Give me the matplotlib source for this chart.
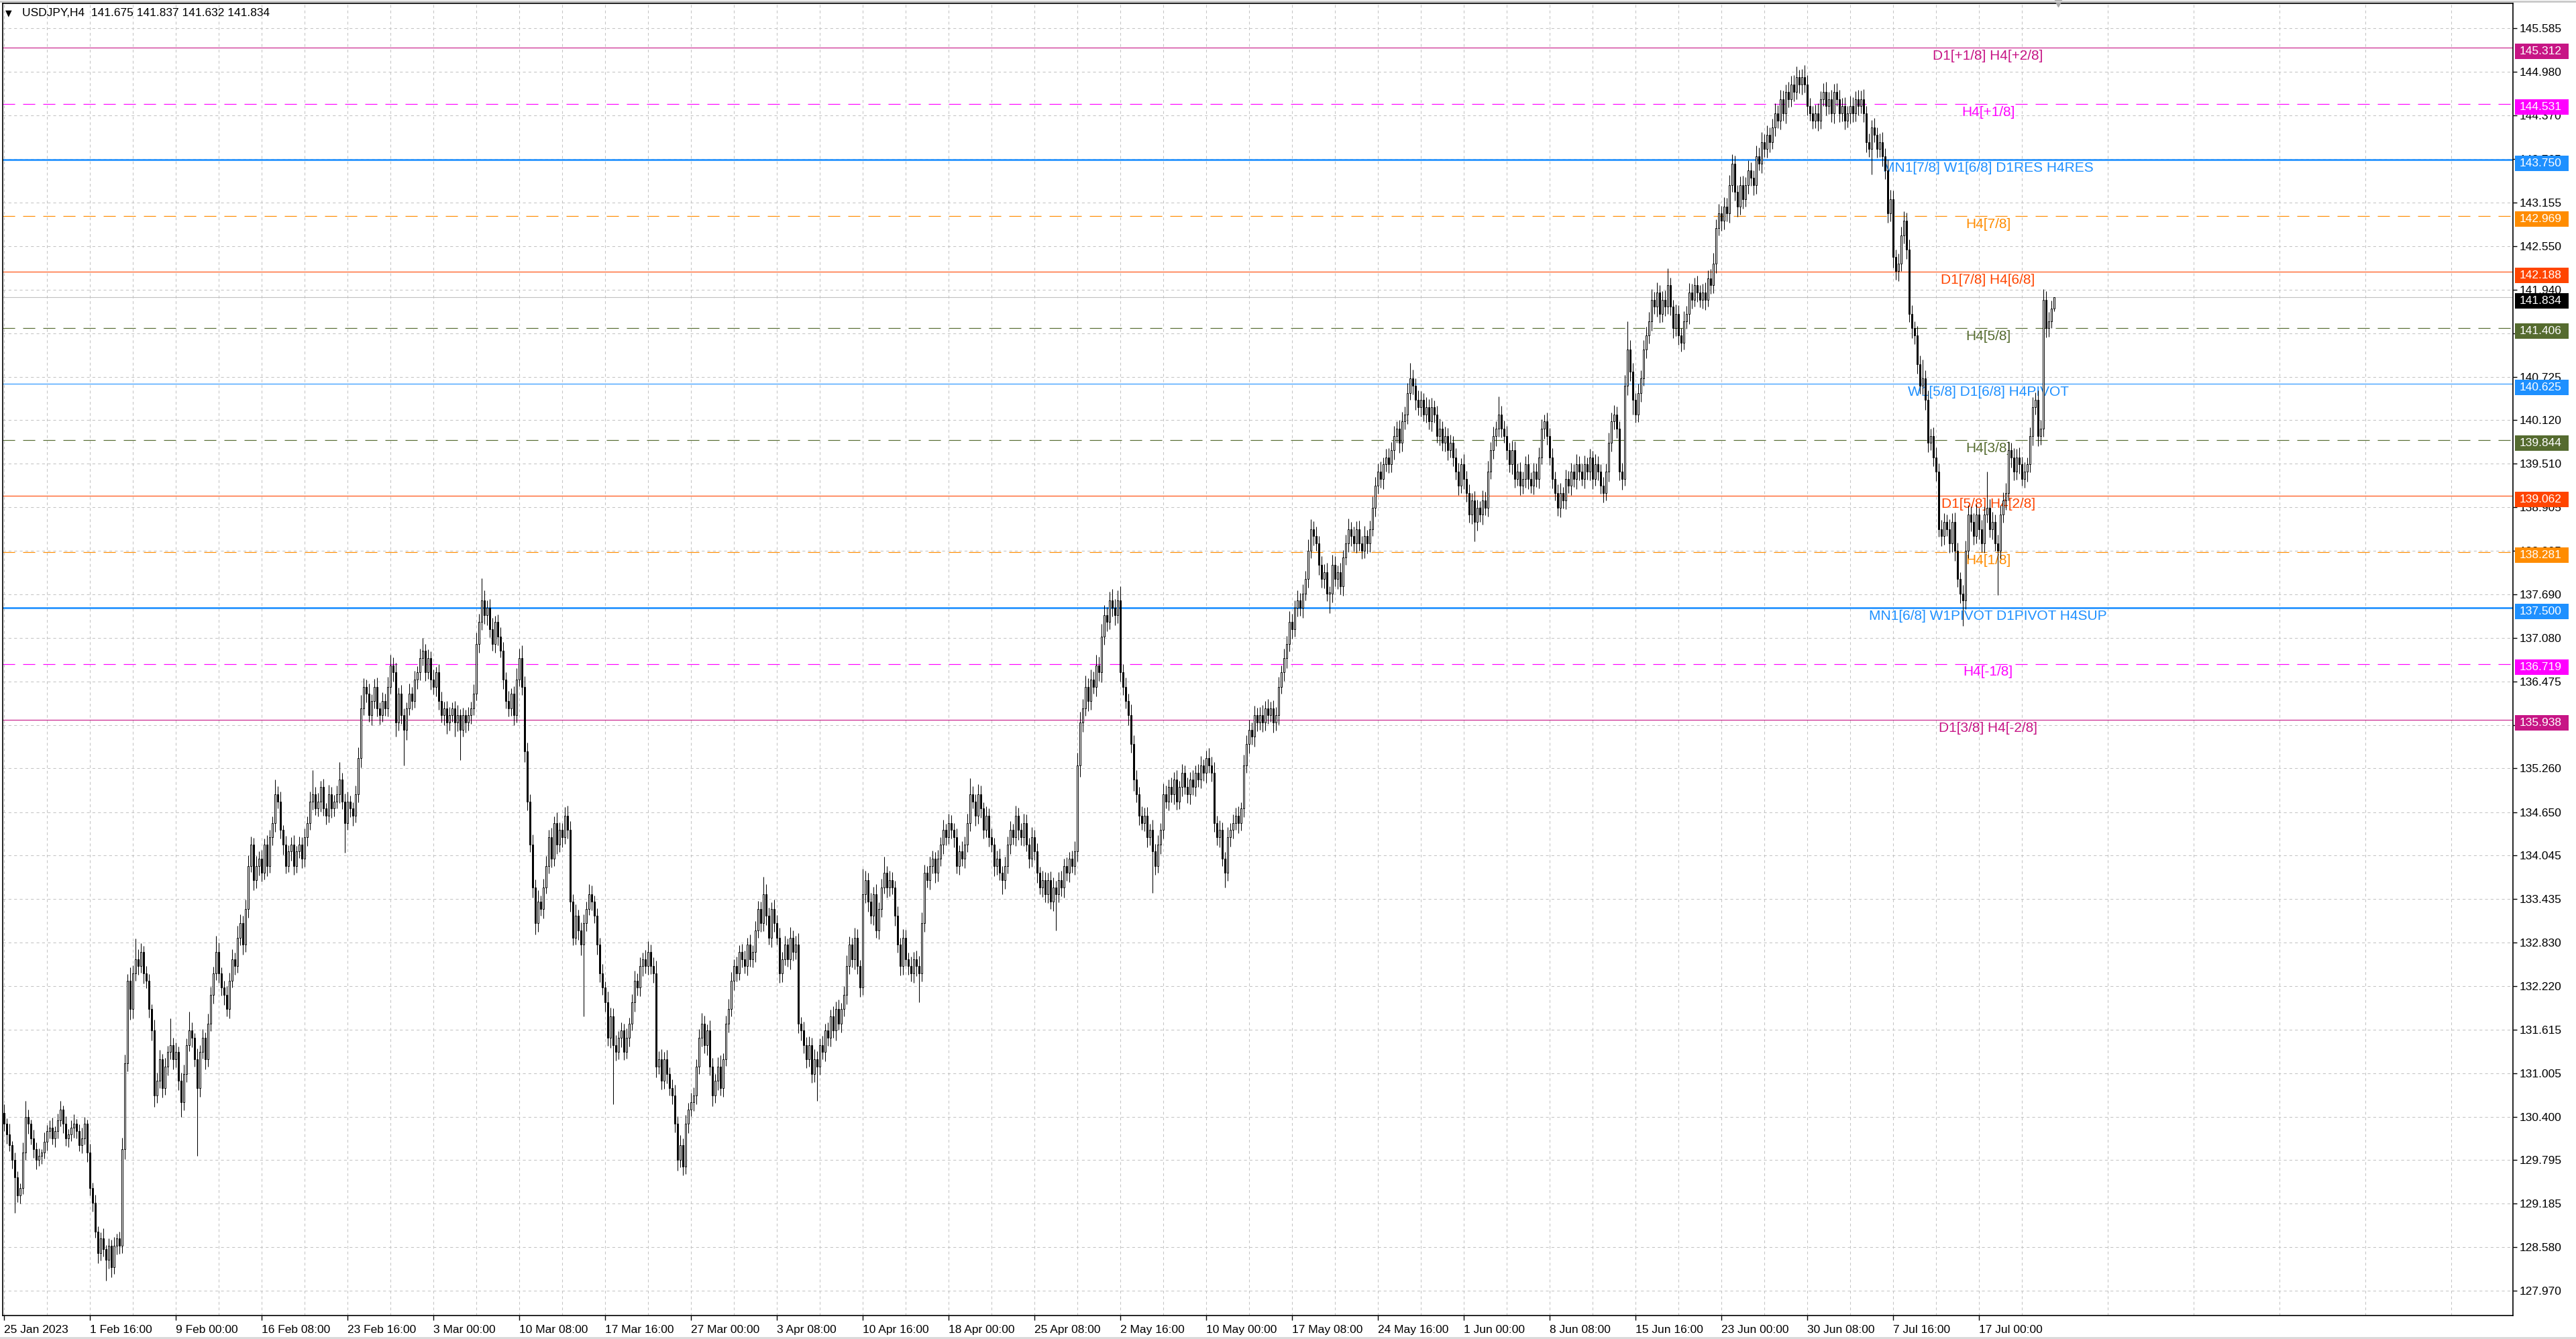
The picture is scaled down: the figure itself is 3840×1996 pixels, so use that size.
import numpy as np
import matplotlib.pyplot as plt
from matplotlib.patches import Rectangle
from matplotlib.lines import Line2D
from matplotlib import transforms as mtransforms

plt.rcParams['font.family'] = ['Liberation Sans', 'DejaVu Sans']

# USDJPY H4 closes, one trading day (6 bars) per row
closes = [
    130.30, 130.15, 130.00, 129.80, 129.55, 129.30,
    129.40, 129.90, 130.40, 130.30, 130.10, 129.95,
    129.80, 129.85, 129.90, 130.05, 130.20, 130.25,
    130.10, 130.20, 130.35, 130.50, 130.30, 130.10,
    130.15, 130.25, 130.30, 130.20, 130.00, 130.10,
    130.30, 129.90, 129.40, 129.20, 128.80, 128.50,
    128.70, 128.55, 128.40, 128.60, 128.30, 128.60,
    128.70, 128.60, 129.95, 131.15, 132.30, 131.90,
    132.40, 132.60, 132.50, 132.70, 132.40, 132.30,
    131.90, 131.60, 130.70, 130.90, 131.20, 130.80,
    131.10, 131.30, 131.40, 131.20, 131.30, 130.90,
    130.60, 131.00, 131.40, 131.60, 131.50, 131.20,
    130.80, 131.30, 131.50, 131.20, 131.70, 132.10,
    132.40, 132.70, 132.40, 132.20, 132.10, 131.90,
    132.30, 132.60, 132.50, 132.90, 133.10, 132.80,
    133.30, 133.90, 134.20, 133.70, 133.90, 134.00,
    133.80, 134.20, 133.90, 134.30, 134.50, 134.90,
    134.80, 134.40, 134.20, 133.90, 134.10, 134.20,
    133.90, 134.10, 134.20, 134.00, 134.30, 134.50,
    134.80, 134.90, 134.70, 134.80, 135.00, 134.70,
    134.60, 134.90, 134.70, 134.80, 134.90, 135.10,
    134.80, 134.50, 134.80, 134.70, 134.60, 134.90,
    135.40, 136.10, 136.40, 136.30, 136.00, 136.20,
    136.40, 136.10, 136.00, 136.20, 136.10, 136.40,
    136.70, 136.60, 135.90, 136.30, 136.00, 135.80,
    136.10, 136.30, 136.20, 136.50, 136.60, 136.80,
    136.90, 136.60, 136.80, 136.50, 136.40, 136.60,
    136.20, 136.00, 136.10, 135.90, 136.00, 136.10,
    135.90, 136.00, 135.80, 136.00, 135.90, 136.00,
    136.10, 136.30, 137.00, 137.30, 137.60, 137.40,
    137.50, 137.20, 137.00, 137.30, 137.10, 136.90,
    136.50, 136.20, 136.10, 136.30, 136.00, 136.50,
    136.80, 136.40, 135.50, 134.80, 134.20, 133.60,
    133.10, 133.40, 133.30, 133.60, 133.90, 134.30,
    134.00, 134.50, 134.20, 134.40, 134.30, 134.60,
    134.40, 133.40, 132.90, 133.20, 133.00, 132.80,
    133.10, 133.30, 133.50, 133.40, 133.20, 132.80,
    132.40, 132.20, 132.00, 131.50, 131.80, 131.40,
    131.30, 131.50, 131.60, 131.30, 131.50, 131.70,
    132.00, 132.30, 132.20, 132.50, 132.60, 132.50,
    132.70, 132.50, 132.40, 131.10, 131.20, 130.90,
    131.20, 131.00, 130.80, 130.70, 130.30, 129.80,
    130.00, 129.70, 130.30, 130.50, 130.60, 130.70,
    131.10, 131.50, 131.70, 131.40, 131.60, 131.10,
    130.70, 130.90, 131.10, 130.80, 131.20, 131.70,
    131.90, 132.30, 132.50, 132.40, 132.70, 132.60,
    132.50, 132.80, 132.60, 132.70, 133.00, 133.30,
    133.10, 133.50, 133.20, 132.90, 133.30, 133.10,
    132.90, 132.40, 132.60, 132.80, 132.60, 132.90,
    132.70, 132.80, 131.70, 131.60, 131.40, 131.20,
    131.40, 131.00, 131.20, 131.10, 131.40, 131.30,
    131.60, 131.50, 131.80, 131.60, 131.90, 131.70,
    131.90, 132.10, 132.50, 132.80, 132.60, 132.90,
    132.50, 132.20, 133.50, 133.70, 133.40, 133.20,
    133.50, 133.00, 133.30, 133.60, 133.80, 133.60,
    133.70, 133.60, 133.20, 132.80, 132.50, 132.90,
    132.60, 132.50, 132.40, 132.60, 132.50, 132.40,
    133.10, 133.80, 133.70, 133.90, 134.00, 133.80,
    134.00, 134.20, 134.40, 134.30, 134.50, 134.40,
    134.30, 133.90, 134.10, 134.00, 134.20, 134.50,
    134.90, 134.80, 134.60, 134.90, 134.70, 134.40,
    134.60, 134.30, 134.20, 133.90, 134.00, 133.80,
    133.70, 133.90, 134.20, 134.40, 134.30, 134.60,
    134.40, 134.30, 134.50, 134.20, 134.00, 134.30,
    134.10, 133.80, 133.60, 133.70, 133.50, 133.70,
    133.40, 133.60, 133.50, 133.70, 133.60, 133.90,
    133.80, 134.00, 133.90, 134.10, 135.30, 135.90,
    136.10, 136.40, 136.20, 136.50, 136.40, 136.70,
    136.60, 137.10, 137.40, 137.30, 137.60, 137.50,
    137.40, 137.60, 136.60, 136.40, 136.20, 136.00,
    135.60, 135.10, 134.90, 134.60, 134.50, 134.60,
    134.30, 134.40, 134.10, 133.90, 134.20, 134.40,
    134.90, 134.80, 135.00, 134.90, 135.10, 134.80,
    135.00, 135.20, 135.00, 134.90, 135.10, 135.00,
    135.20, 135.10, 135.30, 135.20, 135.40, 135.30,
    135.20, 134.50, 134.30, 134.40, 134.00, 133.80,
    134.30, 134.40, 134.50, 134.60, 134.50, 134.70,
    135.30, 135.60, 135.80, 135.70, 136.00, 135.90,
    136.00, 135.90, 136.10, 136.00, 136.10, 135.90,
    136.00, 136.40, 136.60, 136.80, 137.00, 137.30,
    137.20, 137.50, 137.60, 137.50, 137.70, 137.90,
    138.30, 138.60, 138.50, 138.40, 138.10, 137.90,
    138.00, 137.70, 137.70, 138.10, 137.90, 138.00,
    137.80, 138.20, 138.40, 138.60, 138.50, 138.40,
    138.60, 138.40, 138.30, 138.50, 138.40, 138.60,
    138.90, 139.20, 139.40, 139.30, 139.50, 139.60,
    139.50, 139.70, 139.90, 140.00, 139.80, 140.10,
    140.20, 140.50, 140.70, 140.60, 140.40, 140.30,
    140.40, 140.20, 140.30, 140.10, 140.30, 140.20,
    139.90, 140.00, 139.80, 139.90, 139.70, 139.80,
    139.60, 139.40, 139.20, 139.50, 139.30, 139.10,
    138.80, 139.00, 138.70, 138.90, 138.80, 139.00,
    138.90, 139.40, 139.70, 139.90, 140.00, 140.20,
    140.00, 139.90, 139.70, 139.50, 139.70, 139.30,
    139.40, 139.20, 139.30, 139.50, 139.30, 139.20,
    139.40, 139.30, 139.60, 140.00, 140.10, 139.90,
    139.60, 139.30, 139.10, 138.90, 139.10, 139.00,
    139.30, 139.20, 139.40, 139.30, 139.50, 139.40,
    139.30, 139.50, 139.40, 139.60, 139.30, 139.50,
    139.40, 139.20, 139.10, 139.40, 139.80, 140.10,
    140.20, 140.00, 139.40, 139.30, 140.60, 141.10,
    140.80, 140.40, 140.20, 140.50, 140.70, 141.10,
    141.30, 141.50, 141.80, 141.70, 141.90, 141.60,
    141.80, 141.70, 142.00, 141.70, 141.40, 141.60,
    141.30, 141.20, 141.50, 141.60, 141.90, 141.80,
    142.00, 141.90, 141.80, 141.90, 141.80, 142.10,
    142.00, 142.30, 142.80, 143.00, 142.90, 143.10,
    143.00, 143.40, 143.70, 143.30, 143.10, 143.40,
    143.20, 143.40, 143.60, 143.50, 143.40, 143.80,
    143.70, 144.00, 143.90, 144.10, 144.00, 144.20,
    144.40, 144.30, 144.60, 144.40, 144.70, 144.60,
    144.80, 144.70, 144.90, 144.80, 144.90, 144.80,
    144.50, 144.40, 144.30, 144.40, 144.30, 144.60,
    144.70, 144.50, 144.60, 144.40, 144.70, 144.60,
    144.40, 144.50, 144.30, 144.40, 144.50, 144.40,
    144.60, 144.50, 144.60, 144.40, 144.00, 143.90,
    144.20, 144.10, 143.90, 144.00, 143.80, 143.60,
    143.00, 143.20, 142.40, 142.20, 142.30, 142.70,
    142.90, 142.50, 141.60, 141.40, 141.30, 140.90,
    140.60, 140.70, 140.40, 139.80, 139.90, 139.60,
    139.40, 138.60, 138.50, 138.70, 138.60, 138.40,
    138.70, 138.30, 137.90, 137.70, 137.60, 138.30,
    138.80, 138.70, 138.50, 138.80, 138.60, 138.40,
    138.80, 138.90, 138.60, 138.70, 138.40, 138.30,
    138.80, 139.00, 139.10, 139.70, 139.60, 139.40,
    139.60, 139.50, 139.30, 139.40, 139.50, 139.90,
    140.30, 140.40, 139.90, 140.00, 141.80, 141.40,
    141.50, 141.675, 141.834,
]
first_open = 130.45

# upper / lower shadow length per bar, in hundredths of a yen
wick_up = [
    12, 8, 15, 6, 10, 9, 7, 14, 22, 10, 6, 12, 9, 11, 5, 13, 8, 10,
    14, 7, 9, 12, 6, 11, 8, 10, 13, 7, 9, 15, 10, 6, 12, 8, 11, 7,
    9, 14, 6, 10, 8, 12, 7, 10, 16, 12, 9, 18, 11, 29, 14, 12, 8, 10,
    9, 7, 15, 11, 13, 8, 12, 9, 37, 10, 14, 8, 11, 13, 9, 27, 12, 7,
    15, 10, 12, 8, 14, 11, 9, 22, 13, 8, 10, 12, 11, 14, 9, 16, 12, 10,
    13, 15, 11, 9, 14, 10, 12, 8, 13, 10, 9, 20, 11, 14, 7, 12, 9, 10,
    13, 8, 11, 10, 12, 9, 14, 34, 10, 12, 9, 11, 8, 13, 10, 9, 12, 25,
    10, 11, 14, 8, 9, 12, 15, 18, 12, 10, 14, 9, 11, 13, 8, 12, 10, 14,
    15, 11, 13, 9, 12, 10, 8, 14, 10, 12, 9, 13, 18, 10, 12, 9, 14, 8,
    11, 13, 9, 10, 12, 8, 10, 14, 9, 11, 8, 12, 9, 13, 15, 12, 31, 14,
    10, 12, 16, 9, 11, 13, 12, 10, 14, 8, 11, 16, 13, 18, 15, 12, 10, 14,
    11, 16, 9, 12, 14, 10, 13, 9, 15, 11, 10, 12, 14, 12, 10, 16, 9, 11,
    12, 10, 14, 13, 9, 11, 10, 13, 9, 15, 12, 11, 14, 9, 12, 10, 13, 8,
    11, 14, 10, 12, 9, 13, 15, 10, 12, 18, 11, 14, 10, 13, 9, 12, 15, 11,
    14, 10, 12, 9, 13, 11, 10, 12, 15, 11, 9, 14, 12, 10, 13, 16, 9, 11,
    14, 12, 10, 13, 9, 11, 12, 10, 14, 9, 13, 11, 10, 25, 14, 12, 9, 13,
    11, 14, 10, 12, 9, 15, 10, 12, 16, 9, 13, 11, 12, 10, 14, 11, 9, 13,
    10, 12, 9, 14, 11, 13, 9, 12, 15, 11, 10, 14, 12, 9, 36, 13, 10, 12,
    11, 14, 9, 12, 23, 10, 13, 11, 9, 14, 10, 12, 11, 9, 13, 10, 12, 14,
    15, 12, 10, 13, 11, 9, 12, 10, 14, 9, 13, 11, 10, 12, 9, 14, 11, 13,
    22, 11, 10, 14, 12, 9, 13, 10, 12, 9, 11, 14, 10, 13, 11, 12, 9, 14,
    11, 10, 13, 12, 9, 14, 10, 12, 9, 13, 11, 10, 12, 14, 9, 11, 13, 10,
    12, 9, 11, 14, 18, 15, 13, 16, 12, 14, 11, 15, 12, 18, 14, 11, 13, 16,
    12, 14, 20, 11, 13, 10, 15, 12, 14, 10, 13, 11, 12, 9, 14, 11, 13, 10,
    15, 12, 10, 13, 11, 14, 9, 12, 10, 13, 11, 14, 10, 12, 13, 9, 11, 14,
    12, 15, 10, 13, 11, 9, 14, 10, 12, 11, 13, 9, 15, 12, 14, 10, 13, 11,
    12, 14, 10, 13, 9, 11, 12, 14, 10, 13, 11, 15, 12, 10, 14, 11, 13, 12,
    16, 14, 11, 13, 10, 12, 11, 13, 10, 14, 12, 9, 13, 11, 12, 15, 10, 13,
    11, 12, 10, 14, 9, 12, 15, 13, 11, 14, 10, 12, 13, 11, 14, 10, 12, 13,
    11, 14, 22, 12, 10, 13, 12, 10, 14, 11, 13, 9, 12, 14, 10, 13, 11, 12,
    10, 13, 12, 9, 14, 11, 12, 10, 13, 11, 9, 14, 12, 15, 11, 13, 10, 25,
    12, 11, 14, 10, 13, 12, 11, 13, 10, 12, 14, 9, 12, 11, 14, 13, 10, 12,
    11, 13, 10, 12, 14, 9, 13, 11, 12, 10, 14, 12, 11, 13, 10, 12, 9, 14,
    12, 10, 13, 11, 14, 12, 13, 11, 10, 12, 15, 40, 14, 12, 10, 13, 11, 14,
    12, 13, 15, 11, 14, 10, 12, 13, 24, 11, 10, 13, 12, 10, 14, 11, 13, 12,
    11, 13, 10, 12, 14, 11, 13, 15, 12, 14, 11, 13, 12, 14, 13, 11, 10, 12,
    13, 11, 14, 12, 10, 15, 12, 14, 11, 13, 10, 12, 14, 11, 13, 12, 10, 14,
    12, 13, 15, 11, 12, 17, 13, 11, 10, 12, 14, 11, 12, 14, 10, 13, 11, 12,
    13, 11, 12, 10, 14, 12, 11, 13, 12, 14, 10, 12, 11, 13, 10, 12, 14, 11,
    15, 13, 12, 10, 14, 12, 13, 11, 14, 12, 10, 13, 12, 26, 11, 13, 10, 12,
    14, 11, 13, 12, 10, 14, 12, 13, 11, 10, 12, 14, 13, 11, 12, 14, 10, 13,
    11, 50, 12, 14, 10, 12, 13, 11, 14, 12, 10, 13, 12, 14, 11, 13, 10, 12,
    14, 11, 13, 12, 15, 12, 13, 11, 0,
]
wick_dn = [
    10, 13, 8, 12, 49, 9, 11, 8, 10, 14, 9, 12, 13, 9, 11, 8, 12, 10,
    9, 12, 10, 8, 13, 11, 12, 9, 14, 10, 8, 11, 9, 13, 10, 12, 9, 14,
    11, 10, 29, 12, 14, 9, 12, 11, 10, 14, 12, 15, 13, 10, 12, 9, 14, 11,
    12, 14, 16, 11, 10, 13, 9, 12, 10, 14, 11, 13, 20, 11, 12, 9, 13, 10,
    95, 12, 9, 14, 10, 11, 12, 9, 13, 11, 14, 10, 13, 10, 12, 9, 11, 14,
    10, 12, 9, 14, 11, 13, 12, 9, 14, 10, 11, 13, 10, 12, 14, 11, 9, 13,
    12, 10, 9, 13, 11, 12, 10, 12, 9, 11, 14, 10, 12, 9, 13, 11, 10, 12,
    11, 42, 10, 12, 14, 9, 11, 13, 10, 12, 9, 14, 10, 12, 13, 9, 11, 12,
    10, 13, 20, 11, 12, 50, 14, 10, 12, 9, 13, 11, 10, 12, 9, 14, 11, 13,
    12, 10, 14, 16, 11, 9, 20, 12, 42, 10, 14, 11, 12, 10, 9, 13, 11, 12,
    14, 11, 10, 13, 12, 9, 13, 10, 12, 11, 14, 10, 9, 12, 15, 13, 11, 14,
    16, 12, 10, 13, 9, 11, 12, 10, 13, 11, 14, 9, 12, 14, 11, 10, 13, 15,
    100, 11, 9, 12, 10, 14, 12, 10, 13, 11, 14, 83, 12, 10, 13, 11, 9, 12,
    10, 13, 11, 12, 14, 10, 12, 11, 13, 15, 10, 12, 11, 14, 10, 13, 12, 15,
    11, 12, 10, 13, 9, 12, 13, 10, 12, 11, 14, 12, 15, 11, 13, 10, 12, 9,
    12, 10, 13, 11, 9, 12, 10, 13, 11, 12, 14, 10, 12, 11, 13, 10, 14, 12,
    10, 13, 12, 9, 11, 14, 12, 10, 13, 14, 11, 12, 10, 13, 12, 48, 11, 10,
    13, 11, 12, 10, 14, 9, 12, 10, 13, 11, 12, 14, 11, 13, 10, 12, 14, 11,
    13, 10, 12, 11, 9, 14, 12, 10, 14, 11, 13, 12, 10, 12, 11, 13, 14, 40,
    11, 12, 10, 13, 11, 14, 12, 10, 13, 11, 9, 12, 14, 11, 12, 10, 13, 11,
    12, 10, 14, 11, 13, 12, 10, 13, 11, 14, 12, 10, 20, 12, 11, 13, 10, 12,
    14, 11, 12, 10, 13, 11, 12, 14, 10, 13, 11, 12, 10, 13, 50, 11, 12, 14,
    11, 13, 10, 12, 14, 16, 13, 11, 14, 12, 10, 13, 12, 14, 11, 13, 10, 12,
    14, 11, 13, 12, 10, 14, 12, 15, 11, 13, 10, 12, 14, 11, 58, 12, 10, 13,
    12, 10, 13, 11, 14, 12, 11, 13, 10, 12, 14, 11, 13, 10, 12, 11, 14, 10,
    12, 13, 11, 14, 10, 20, 11, 13, 12, 10, 14, 11, 12, 10, 13, 11, 14, 12,
    10, 13, 11, 12, 9, 14, 11, 13, 10, 12, 14, 11, 13, 10, 12, 11, 14, 10,
    12, 11, 13, 10, 14, 12, 13, 11, 27, 12, 10, 14, 11, 13, 10, 12, 14, 11,
    13, 10, 12, 11, 14, 12, 10, 13, 11, 12, 14, 10, 12, 11, 13, 10, 14, 12,
    11, 13, 10, 12, 14, 11, 13, 10, 12, 11, 14, 12, 10, 13, 11, 12, 14, 10,
    12, 11, 13, 10, 14, 12, 11, 13, 27, 12, 10, 14, 11, 13, 10, 12, 14, 11,
    12, 10, 13, 11, 14, 12, 10, 13, 11, 12, 14, 10, 12, 11, 13, 10, 14, 12,
    11, 13, 10, 12, 14, 11, 12, 10, 13, 11, 14, 12, 10, 13, 11, 12, 14, 10,
    12, 11, 13, 10, 14, 12, 11, 13, 12, 15, 10, 13, 14, 20, 12, 11, 13, 10,
    12, 11, 13, 10, 14, 12, 11, 13, 10, 12, 14, 11, 13, 12, 10, 11, 14, 12,
    10, 13, 11, 12, 14, 10, 12, 11, 13, 10, 14, 12, 11, 13, 10, 12, 14, 11,
    13, 10, 12, 11, 14, 12, 10, 13, 11, 12, 14, 10, 12, 11, 13, 10, 14, 12,
    11, 13, 10, 12, 14, 11, 13, 10, 12, 11, 14, 12, 10, 13, 11, 12, 14, 10,
    12, 11, 13, 10, 14, 12, 11, 13, 10, 12, 14, 11, 35, 10, 12, 11, 14, 12,
    13, 11, 15, 12, 14, 10, 12, 13, 11, 14, 12, 13, 11, 12, 14, 13, 10, 12,
    13, 11, 14, 12, 10, 13, 12, 14, 11, 13, 35, 12, 11, 13, 12, 10, 14, 12,
    13, 11, 12, 14, 10, 62, 12, 11, 13, 10, 14, 12, 11, 13, 10, 12, 14, 11,
    13, 10, 14, 12, 11, 13, 12, 10, 4,
]

date_labels = ['25 Jan 2023', '1 Feb 16:00', '9 Feb 00:00', '16 Feb 08:00',
               '23 Feb 16:00', '3 Mar 00:00', '10 Mar 08:00', '17 Mar 16:00',
               '27 Mar 00:00', '3 Apr 08:00', '10 Apr 16:00', '18 Apr 00:00',
               '25 Apr 08:00', '2 May 16:00', '10 May 00:00', '17 May 08:00',
               '24 May 16:00', '1 Jun 00:00', '8 Jun 08:00', '15 Jun 16:00',
               '23 Jun 00:00', '30 Jun 08:00', '7 Jul 16:00', '17 Jul 00:00']
bars_per_label = 32

price_ticks = [127.970, 128.580, 129.185, 129.795, 130.400, 131.005, 131.615,
               132.220, 132.830, 133.435, 134.045, 134.650, 135.260, 135.865,
               136.475, 137.080, 137.690, 138.295, 138.905, 139.510, 140.120,
               140.725, 141.330, 141.940, 142.550, 143.155, 143.765, 144.370,
               144.980, 145.585]

level_prices = [145.312, 144.531, 143.750, 142.969, 142.188, 141.406, 140.625,
                139.844, 139.062, 138.281, 137.500, 136.719, 135.938]
level_names = ['D1[+1/8] H4[+2/8]', 'H4[+1/8]', 'MN1[7/8] W1[6/8] D1RES H4RES',
               'H4[7/8]', 'D1[7/8] H4[6/8]', 'H4[5/8]', 'W1[5/8] D1[6/8] H4PIVOT',
               'H4[3/8]', 'D1[5/8] H4[2/8]', 'H4[1/8]',
               'MN1[6/8] W1PIVOT D1PIVOT H4SUP', 'H4[-1/8]', 'D1[3/8] H4[-2/8]']
level_colors = ['#C71585', '#FF00FF', '#1E90FF', '#FF8C00', '#FF4500', '#556B2F',
                '#1E90FF', '#556B2F', '#FF4500', '#FF8C00', '#1E90FF', '#FF00FF',
                '#C71585']
level_dashed = [False, True, False, True, False, True, False,
                True, False, True, False, True, False]
level_width = [0.8, 0.85, 1.9, 0.85, 0.8, 0.85, 0.8, 0.85, 0.8, 0.85, 1.9, 0.85, 0.8]

last_price = 141.834
title = 'USDJPY,H4  141.675 141.837 141.632 141.834'

assert len(closes) == len(wick_up) == len(wick_dn), (len(closes), len(wick_up), len(wick_dn))

c = np.array(closes)
o = np.concatenate([[first_open], c[:-1]])
hi = np.maximum(o, c) + np.array(wick_up) / 100.0
lo = np.minimum(o, c) - np.array(wick_dn) / 100.0
x = np.arange(len(c))

W, H = 3840, 1996
px_per_yen = 106.84
fig = plt.figure(figsize=(W / 100, H / 100), dpi=100)
fig.patch.set_facecolor('white')
ax_left, ax_right, ax_top, ax_bot = 3.5, 3746, 4.6, 1961
ax = fig.add_axes([ax_left / W, (H - ax_bot) / H,
                   (ax_right - ax_left) / W, (ax_bot - ax_top) / H])

# grid
ax.set_axisbelow(True)
ax.set_xticks(np.arange(0, len(date_labels) * bars_per_label, bars_per_label))
ax.set_xticklabels(date_labels)
ax.set_xticks(np.arange(16, 940, 32), minor=True)
ax.set_yticks(price_ticks)
ax.set_yticklabels(['%.3f' % t for t in price_ticks])
ax.yaxis.tick_right()
ax.grid(True, which='both', axis='x', color='#C4C4C4', linestyle=(0, (4, 4)), linewidth=0.75)
ax.grid(True, which='major', axis='y', color='#C4C4C4', linestyle=(0, (4, 4)), linewidth=0.75)
ax.tick_params(axis='x', which='major', length=5, width=1, pad=5, labelsize=12.5, direction='out')
ax.tick_params(axis='x', which='minor', length=0)
ax.tick_params(axis='y', length=4, width=1, pad=3, labelsize=12.5, direction='out')
for lab in ax.get_xticklabels():
    lab.set_horizontalalignment('left')
for sp in ax.spines.values():
    sp.set_color('black')
    sp.set_linewidth(1.2)

# levels
for p, name, col, dashed, lw in zip(level_prices, level_names, level_colors, level_dashed, level_width):
    ls = (0, (13.0 / lw, 8.6 / lw)) if dashed else '-'
    ax.axhline(p, color=col, lw=lw, ls=ls, zorder=1.5)
    ax.annotate(name, (739.4, p), xytext=(0, -8.9), textcoords='offset points',
                ha='center', va='center', color=col, fontsize=15, zorder=2)
ax.axhline(last_price, color='#C0C0C0', lw=0.8, zorder=1.5)

# candles
ax.vlines(x, lo, hi, color='black', lw=0.75, zorder=3)
bull = c >= o
body_bot = np.minimum(o, c)
body_h = np.maximum(np.abs(c - o), 0.012)
ax.bar(x[bull], body_h[bull], bottom=body_bot[bull], width=0.62, color='white',
       edgecolor='black', linewidth=0.7, zorder=4)
ax.bar(x[~bull], body_h[~bull], bottom=body_bot[~bull], width=0.62, color='black',
       edgecolor='black', linewidth=0.7, zorder=4)

ax.set_xlim(-0.625, 935.0)
ax.set_ylim(127.626, 145.938)

# price boxes on the right scale (sit a few pixels below their line)
trans = mtransforms.blended_transform_factory(fig.transFigure, ax.transData)
box_h = 23 / px_per_yen
box_shift = 5 / px_per_yen
for p, col in zip(level_prices + [last_price], level_colors + ['#000000']):
    yc = p - box_shift
    fig.add_artist(Rectangle((3749 / W, yc - box_h / 2), 80 / W, box_h,
                             transform=trans, facecolor=col, edgecolor='none', zorder=5))
    fig.text(3756 / W, yc, '%.3f' % p, transform=trans, color='white', fontsize=12.5,
             ha='left', va='center', zorder=6)

# header
fig.text(8 / W, 1 - 20 / H, '\u25BC', fontsize=9, va='center', ha='left',
         family=['DejaVu Sans'])
fig.text(33 / W, 1 - 20 / H, title, fontsize=12.5, va='center', ha='left')
ax.plot([765.5], [145.938], marker='v', color='#A8A8A8', ms=7, clip_on=False, zorder=6)
fig.add_artist(Line2D([0, 1], [1 - 1.5 / H] * 2, color='#C8C8C8', lw=2))
fig.add_artist(Line2D([0, 1], [2 / H] * 2, color='#D8D8D8', lw=2))

fig.savefig('out.png', dpi=100, facecolor='white')
